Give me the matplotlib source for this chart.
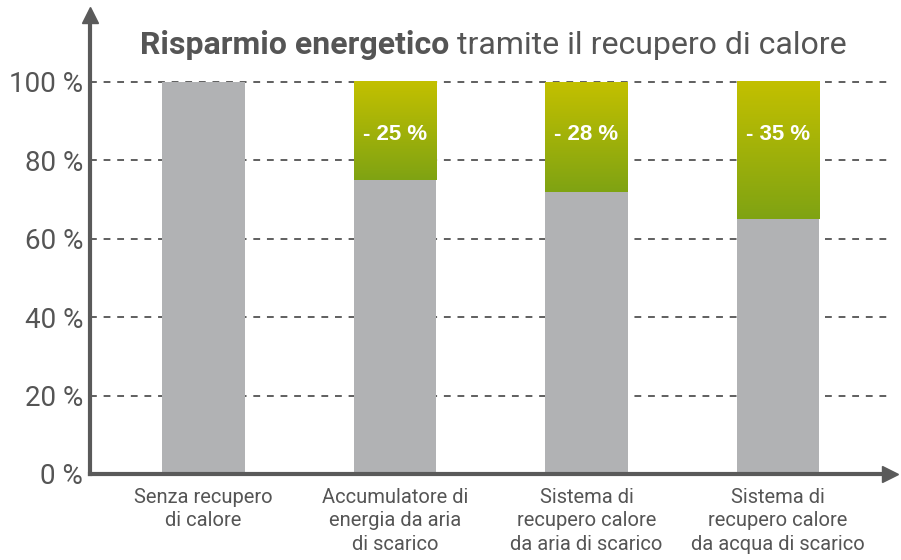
import numpy as np
import matplotlib.pyplot as plt
from matplotlib.colors import LinearSegmentedColormap
from matplotlib import font_manager

# Data
categories = ["Senza recupero\ndi calore",
              "Accumulatore di\nenergia da aria\ndi scarico",
              "Sistema di\nrecupero calore\nda aria di scarico",
              "Sistema di\nrecupero calore\nda acqua di scarico"]
consumo = [100, 75, 72, 65]          # remaining consumption (grey)
risparmio = [0, 25, 28, 35]          # savings (green)
labels = ["", "- 25 %", "- 28 %", "- 35 %"]
yticks = [0, 20, 40, 60, 80, 100]

names = {f.name for f in font_manager.fontManager.ttflist}
font = "Liberation Sans Narrow" if "Liberation Sans Narrow" in names else "Roboto"
plt.rcParams['font.family'] = [font, 'DejaVu Sans']

grey_txt = "#555555"
axis_col = "#5a5a5a"
bar_grey = "#b1b2b4"
green_cmap = LinearSegmentedColormap.from_list("g", ["#7fa313", "#c3c000"])

fig = plt.figure(figsize=(9.01, 5.60), dpi=100)
ax = fig.add_axes([90/901, 86/560, 800/901, 459/560])

x = np.arange(len(categories))
w = 0.433

# grid
for yv in yticks[1:]:
    ax.axhline(yv, color="#5f5f5f", lw=1.4, ls=(0, (3.5, 3.5)), zorder=1)

ax.bar(x, consumo, width=w, color=bar_grey, zorder=2)

# green gradient part
grad = np.linspace(0, 1, 256).reshape(-1, 1)
for xi, base, s, lab in zip(x, consumo, risparmio, labels):
    if s <= 0:
        continue
    ax.imshow(grad, cmap=green_cmap, origin="lower", aspect="auto",
              extent=(xi - w/2, xi + w/2, base, base + s), zorder=3)
    ax.text(xi, 86.5, lab, color="white", fontsize=16, fontweight="bold",
            ha="center", va="center", zorder=4, family="Liberation Sans")
ax.set_xlim(-0.593, 3.585)
ax.set_ylim(0, 117)

# axes
for s in ["top", "right"]:
    ax.spines[s].set_visible(False)
for s in ["left", "bottom"]:
    ax.spines[s].set_color(axis_col)
    ax.spines[s].set_linewidth(3)
ax.plot(1, 0, ">", color=axis_col, markersize=11, transform=ax.transAxes, clip_on=False)
ax.plot(0, 1, "^", color=axis_col, markersize=11, transform=ax.transAxes, clip_on=False)

ax.set_yticks(yticks)
ax.set_yticklabels([f"{v} %" for v in yticks])
ax.set_xticks(x)
ax.set_xticklabels(categories, linespacing=1.3)
ax.tick_params(axis="y", length=0, labelsize=20, labelcolor=grey_txt, pad=5)
ax.tick_params(axis="x", length=0, labelsize=14.5, labelcolor=grey_txt, pad=10)

# title: bold part + regular part
t1 = ax.text(140/901, 1 - 45/560, "Risparmio energetico", transform=fig.transFigure,
             fontsize=23, fontweight="bold", color=grey_txt, ha="left", va="center")
ax.annotate(" tramite il recupero di calore", xy=(1, 0.5), xycoords=t1,
            fontsize=23, color=grey_txt, ha="left", va="center")

fig.savefig("out.png", dpi=100)
